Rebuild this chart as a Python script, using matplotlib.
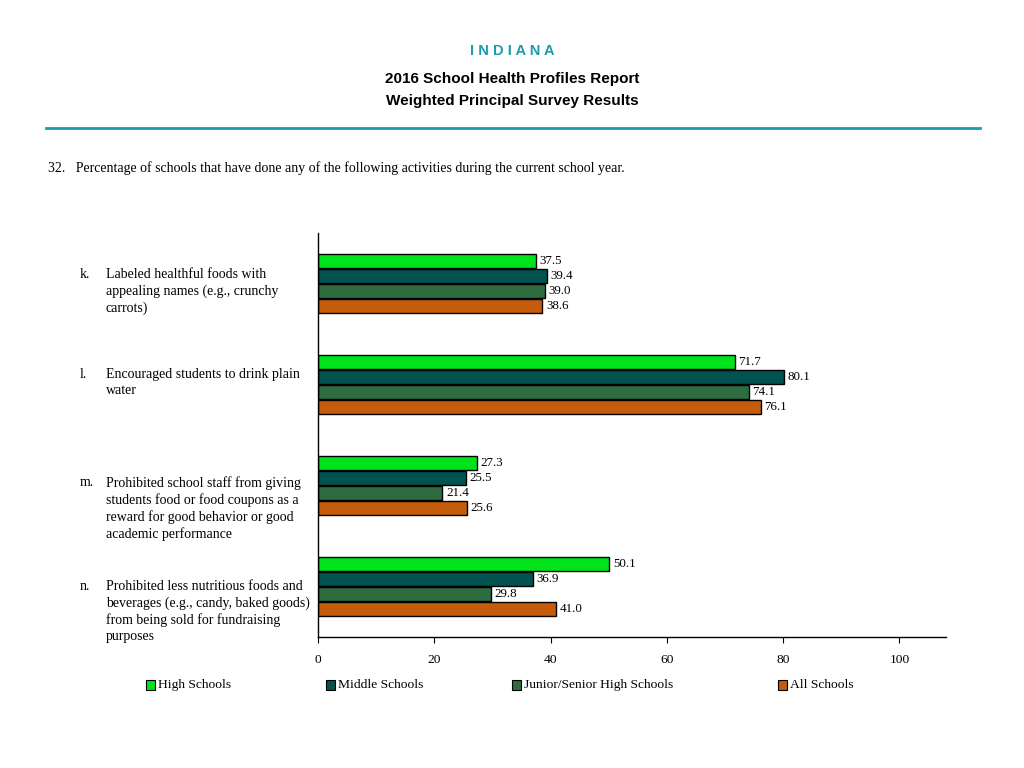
import numpy as np
import matplotlib
matplotlib.use("Agg")
import matplotlib.pyplot as plt
from matplotlib.patches import Rectangle

# data
letters = ["k.", "l.", "m.", "n."]
questions = [
    "Labeled healthful foods with\nappealing names (e.g., crunchy\ncarrots)",
    "Encouraged students to drink plain\nwater",
    "Prohibited school staff from giving\nstudents food or food coupons as a\nreward for good behavior or good\nacademic performance",
    "Prohibited less nutritious foods and\nbeverages (e.g., candy, baked goods)\nfrom being sold for fundraising\npurposes",
]
series_names = ["High Schools", "Middle Schools", "Junior/Senior High Schools", "All Schools"]
high = [37.5, 71.7, 27.3, 50.1]
middle = [39.4, 80.1, 25.5, 36.9]
junior = [39.0, 74.1, 21.4, 29.8]
all_schools = [38.6, 76.1, 25.6, 41.0]
colors = ["#00e31b", "#02534f", "#2c6c3f", "#c45c0c"]
teal = "#1a9bae"

serif = ["Liberation Serif", "DejaVu Serif"]
sans = ["Liberation Sans", "DejaVu Sans"]

fig = plt.figure(figsize=(10.24, 7.68), dpi=100)

# header
fig.text(0.5, 1 - 51 / 768, "I N D I A N A", ha="center", va="center",
         color=teal, fontsize=10.5, fontweight="bold", family=sans)
fig.text(0.5, 1 - 79 / 768, "2016 School Health Profiles Report", ha="center", va="center",
         fontsize=11, fontweight="bold", family=sans)
fig.text(0.5, 1 - 101 / 768, "Weighted Principal Survey Results", ha="center", va="center",
         fontsize=11, fontweight="bold", family=sans)
fig.add_artist(plt.Line2D([46 / 1024, 980 / 1024], [1 - 128 / 768] * 2, color=teal, lw=2))
fig.text(48 / 1024, 1 - 168 / 768,
         "32.   Percentage of schools that have done any of the following activities during the current school year.",
         ha="left", va="center", fontsize=10, family=serif)

ax = fig.add_axes([318 / 1024, 1 - 637 / 768, (946 - 318) / 1024, (637 - 233) / 768])

y = np.arange(len(letters))
h = 0.14
step = 0.147
all_series = [high, middle, junior, all_schools]
for i, (vals, c, name) in enumerate(zip(all_series, colors, series_names)):
    pos = y - 1.5 * step + i * step
    ax.barh(pos, vals, height=h, color=c, edgecolor="black", linewidth=1, label=name)
    for p, v in zip(pos, vals):
        ax.text(v + 0.6, p, f"{v:.1f}", va="center", ha="left", fontsize=9.4, family=serif)

ax.set_ylim(3.5, -0.5)
ax.set_xlim(0, 108)
ax.set_xticks([0, 20, 40, 60, 80, 100])
ax.set_yticks([])
for s in ["top", "right"]:
    ax.spines[s].set_visible(False)
ax.spines["left"].set_linewidth(1)
ax.spines["bottom"].set_linewidth(1)
ax.tick_params(axis="x", length=4, labelsize=9.7, pad=8)
for lab in ax.get_xticklabels():
    lab.set_family(serif)

# category labels, top of first line in pixels
label_top_px = [268, 368, 476, 580]
for let, q, ypx in zip(letters, questions, label_top_px):
    fy = 1 - ypx / 768
    fig.text(80 / 1024, fy, let, ha="left", va="top", fontsize=10, family=serif, linespacing=1.32)
    fig.text(106 / 1024, fy, q, ha="left", va="top", fontsize=10, family=serif, linespacing=1.32)

# legend
leg_x = [146, 326, 512, 778]
for xpx, c, name in zip(leg_x, colors, series_names):
    fy = 1 - 685 / 768
    fig.add_artist(Rectangle((xpx / 1024, fy - 5 / 768), 9 / 1024, 10 / 768,
                             facecolor=c, edgecolor="black", lw=0.8, transform=fig.transFigure))
    fig.text((xpx + 12) / 1024, fy, name, ha="left", va="center", fontsize=9.7, family=serif)

fig.savefig("out.png", dpi=100)
